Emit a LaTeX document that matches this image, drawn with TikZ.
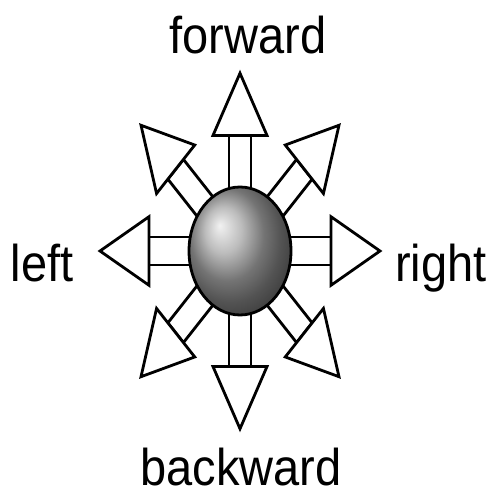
\documentclass[tikz,border=0pt]{standalone}
\usepackage{fontspec}
\setmainfont{Liberation Sans}
\usetikzlibrary{shapes.geometric}

\newcommand{\tallword}[1]{\scalebox{1}[1.1]{#1}}

\begin{document}
\begin{tikzpicture}[x=1pt,y=1pt,
    shaft/.style={draw=black,line width=2.8pt,fill=white},
    arrowhead/.style={draw=black,line width=2.8pt,fill=white,line join=miter},
    dirlabel/.style={font=\fontsize{47}{50}\selectfont,anchor=base,inner sep=0pt}]
    \useasboundingbox (0,0) rectangle (489,500);

    % Draw the eight arrows
    \begin{scope}[shift={(240,249)},yscale=1.27]
        \foreach \a in {0,45,...,315} {
            \begin{scope}[rotate=\a]
                \draw[shaft] (35,-11) -- (91,-11) -- (91,11) -- (35,11) -- cycle;
                \draw[arrowhead] (91,-27) -- (140,0) -- (91,27) -- cycle;
            \end{scope}
        }
    \end{scope}

    % Ball in the middle
    \node[ellipse,draw=black,line width=2.8pt,ball color=gray!70,
          minimum width=102pt,minimum height=128pt,inner sep=0pt] (ball) at (240,249) {};

    % Labels
    \node[dirlabel] (fwd) at (248,446) {\tallword{forward}};
    \node[dirlabel] (lft) at (42,218) {\tallword{left}};
    \node[dirlabel] (rgt) at (441,218) {\tallword{right}};
    \node[dirlabel] (bwd) at (241,14) {\tallword{backward}};
\end{tikzpicture}
\end{document}
